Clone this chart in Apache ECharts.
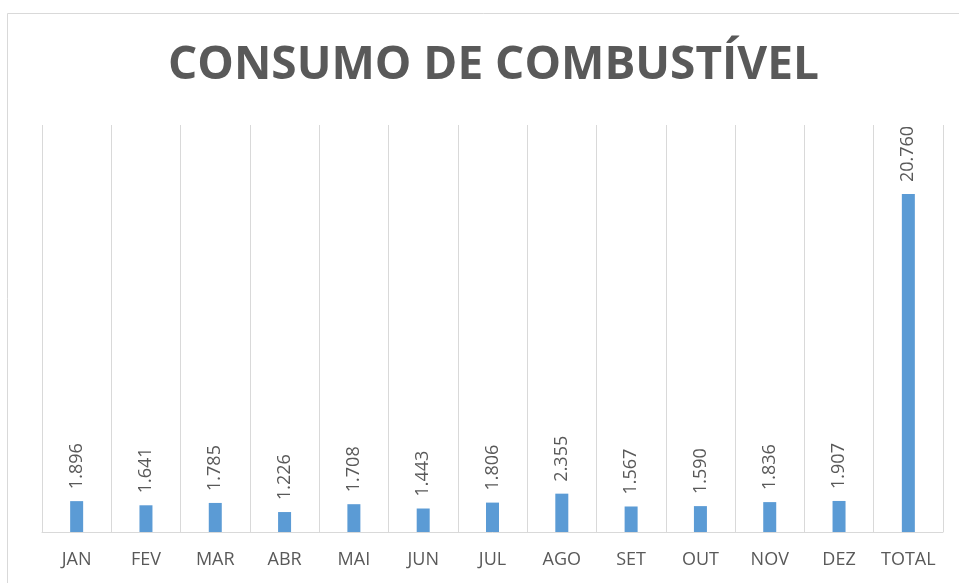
<!DOCTYPE html>
<html><head><meta charset="utf-8">
<script src="https://cdn.jsdelivr.net/npm/echarts@6/dist/echarts.min.js"></script>
<style>html,body{margin:0;padding:0;background:#fff}#c{width:959px;height:583px}</style>
</head><body><div id="c"></div>
<script>
const categories = ['JAN','FEV','MAR','ABR','MAI','JUN','JUL','AGO','SET','OUT','NOV','DEZ','TOTAL'];
const values = [1896,1641,1785,1226,1708,1443,1806,2355,1567,1590,1836,1907,20760];
const titleText = 'CONSUMO DE COMBUSTÍVEL';

function fmt(v){ return String(v).replace(/\B(?=(\d{3})+(?!\d))/g,'.'); }

const chart = echarts.init(document.getElementById('c'));
chart.setOption({
  animation:false,
  backgroundColor:'#ffffff',
  graphic:[{type:'rect',shape:{x:7.5,y:13.5,width:960,height:600},style:{fill:'none',stroke:'#d9d9d9',lineWidth:1},silent:true}],
  title:{text:titleText,left:163,top:38,textStyle:{fontFamily:'Open Sans',fontWeight:'bold',fontSize:46,color:'#595959'}},
  grid:{left:42,right:16,top:125,bottom:51},
  xAxis:{type:'category',data:categories,boundaryGap:true,
    axisLine:{lineStyle:{color:'#d9d9d9',width:1}},axisTick:{show:false},
    splitLine:{show:true,lineStyle:{color:'#d9d9d9',width:1}},
    axisLabel:{color:'#595959',fontSize:18,fontFamily:'Open Sans',margin:19,interval:0}},
  yAxis:{type:'value',min:0,max:25000,show:false,splitLine:{show:false}},
  series:[{type:'bar',data:values,barWidth:13,itemStyle:{color:'#5b9bd5'},
    label:{show:true,position:'top',rotate:90,align:'left',verticalAlign:'middle',distance:12,
      color:'#595959',fontSize:18,fontFamily:'Open Sans',formatter:p=>fmt(p.value)}}]
});
</script></body></html>
